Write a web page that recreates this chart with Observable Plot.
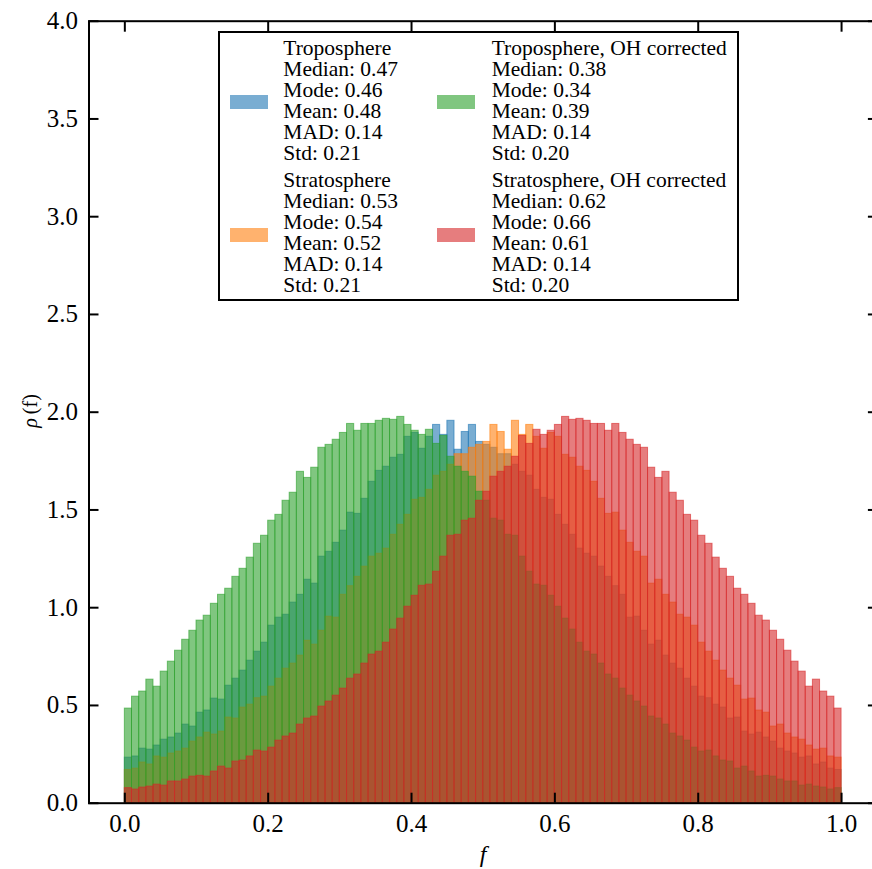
<!DOCTYPE html>
<html><head><meta charset="utf-8">
<script src="https://cdn.jsdelivr.net/npm/d3@7"></script>
<script src="https://cdn.jsdelivr.net/npm/@observablehq/plot@0.6"></script>
<style>
html,body{margin:0;padding:0;background:#fff;overflow:hidden;width:872px;height:869px;}
#wrap{position:relative;width:872px;height:869px;overflow:hidden;}
#wrap svg{position:absolute;left:0;top:0;max-width:none !important;width:880px !important;height:869px !important;}
#legend{position:absolute;left:218px;top:31px;width:521px;height:270px;box-sizing:border-box;border:2px solid #000;background:#fff;font-family:"Liberation Serif",serif;font-size:21.5px;color:#000;}
.blk{position:absolute;line-height:21px;white-space:pre;}
.patch{position:absolute;width:38px;height:14px;}
</style></head><body><div id="wrap"><div id="legend"></div></div>
<script>
// histogram bin lower edges (100 bins on [0, 1])
const binLo = d3.range(100).map(i => i / 100);
const binWidth = 0.01;

// Troposphere
const tropo = [
0.233,0.239,0.279,0.274,0.295,0.325,0.336,0.356,0.402,0.392,
0.463,0.474,0.535,0.530,0.601,0.637,0.678,0.729,0.775,0.821,
0.908,0.949,0.964,1.026,1.066,1.143,1.123,1.261,1.286,1.332,
1.394,1.486,1.480,1.557,1.644,1.700,1.721,1.767,1.782,1.874,
1.894,1.813,1.874,1.935,1.884,1.956,1.808,1.899,1.935,1.848,
1.833,1.818,1.785,1.785,1.731,1.695,1.675,1.603,1.562,1.552,
1.475,1.424,1.373,1.302,1.276,1.261,1.210,1.158,1.110,1.066,
0.949,0.954,0.882,0.811,0.831,0.755,0.714,0.688,0.637,0.596,
0.545,0.537,0.504,0.489,0.433,0.438,0.366,0.351,0.361,0.336,
0.315,0.279,0.264,0.254,0.233,0.239,0.198,0.208,0.177,0.170];

// Stratosphere
const strato = [
0.170,0.177,0.208,0.198,0.239,0.233,0.254,0.264,0.279,0.315,
0.336,0.361,0.351,0.366,0.438,0.433,0.489,0.504,0.537,0.545,
0.596,0.637,0.688,0.714,0.755,0.831,0.811,0.882,0.954,0.949,
1.066,1.110,1.158,1.210,1.261,1.276,1.302,1.373,1.424,1.475,
1.552,1.562,1.603,1.675,1.695,1.731,1.785,1.785,1.818,1.833,
1.848,1.935,1.899,1.808,1.956,1.884,1.935,1.874,1.813,1.894,
1.874,1.782,1.767,1.721,1.700,1.644,1.557,1.480,1.486,1.394,
1.332,1.286,1.261,1.123,1.143,1.066,1.026,0.964,0.949,0.908,
0.821,0.775,0.729,0.678,0.637,0.601,0.530,0.535,0.474,0.463,
0.392,0.402,0.356,0.336,0.325,0.295,0.274,0.279,0.239,0.233];

// Troposphere, OH corrected
const tropoOH = [
0.484,0.545,0.571,0.632,0.596,0.673,0.724,0.780,0.836,0.882,
0.934,0.959,1.020,1.066,1.097,1.158,1.199,1.256,1.327,1.368,
1.445,1.475,1.547,1.588,1.695,1.664,1.716,1.818,1.833,1.859,
1.894,1.940,1.905,1.940,1.940,1.956,1.966,1.961,1.976,1.935,
1.905,1.884,1.910,1.838,1.879,1.772,1.721,1.695,1.670,1.593,
1.547,1.455,1.445,1.373,1.368,1.261,1.184,1.118,1.112,1.061,
1.005,0.944,0.888,0.821,0.775,0.760,0.714,0.658,0.637,0.586,
0.550,0.520,0.494,0.443,0.433,0.402,0.356,0.341,0.320,0.284,
0.264,0.269,0.239,0.218,0.213,0.177,0.187,0.162,0.136,0.140,
0.136,0.121,0.111,0.111,0.090,0.095,0.085,0.080,0.070,0.077];

// Stratosphere, OH corrected
const stratoOH = [
0.077,0.070,0.080,0.085,0.095,0.090,0.111,0.111,0.121,0.136,
0.140,0.136,0.162,0.187,0.177,0.213,0.218,0.239,0.269,0.264,
0.284,0.320,0.341,0.356,0.402,0.433,0.443,0.494,0.520,0.550,
0.586,0.637,0.658,0.714,0.760,0.775,0.821,0.888,0.944,1.005,
1.061,1.112,1.118,1.184,1.261,1.368,1.373,1.445,1.455,1.547,
1.593,1.670,1.695,1.721,1.772,1.879,1.838,1.910,1.884,1.905,
1.935,1.976,1.961,1.966,1.956,1.940,1.940,1.905,1.940,1.894,
1.859,1.833,1.818,1.716,1.664,1.695,1.588,1.547,1.475,1.445,
1.368,1.327,1.256,1.199,1.158,1.097,1.066,1.020,0.959,0.934,
0.882,0.836,0.780,0.724,0.673,0.596,0.632,0.571,0.545,0.484];

const seriesNames = ["Troposphere", "Stratosphere", "Troposphere, OH corrected", "Stratosphere, OH corrected"];
const seriesColors = ["#1f77b4", "#ff7f0e", "#2ca02c", "#d62728"];
const seriesValues = [tropo, strato, tropoOH, stratoOH];
const seriesStats = [
  {median: "0.47", mode: "0.46", mean: "0.48", mad: "0.14", std: "0.21"},
  {median: "0.53", mode: "0.54", mean: "0.52", mad: "0.14", std: "0.21"},
  {median: "0.38", mode: "0.34", mean: "0.39", mad: "0.14", std: "0.20"},
  {median: "0.62", mode: "0.66", mean: "0.61", mad: "0.14", std: "0.20"}
];

const xTicks = [0, 0.2, 0.4, 0.6, 0.8, 1.0];
const yTicks = [0, 0.5, 1.0, 1.5, 2.0, 2.5, 3.0, 3.5, 4.0];

const histMarks = seriesValues.map((vals, s) =>
  Plot.rect(vals.map((v, i) => ({x1: binLo[i], x2: binLo[i] + binWidth, y: v})), {
    x1: "x1", x2: "x2", y1: 0, y2: "y",
    fill: seriesColors[s], fillOpacity: 0.6,
    stroke: seriesColors[s], strokeOpacity: 0.6, strokeWidth: 1
  })
);

const fmt = d3.format(".1f");
const chart = Plot.plot({
  width: 880, height: 869,
  marginLeft: 88.5, marginRight: 3.1, marginTop: 20.7, marginBottom: 66.3,
  style: {fontFamily: "'Liberation Serif', serif", fontSize: "25px", color: "#000", background: "transparent", maxWidth: "none"},
  x: {domain: [-0.05, 1.05], label: null},
  y: {domain: [0, 4], label: null},
  marks: [
    ...histMarks,
    Plot.axisX(xTicks, {anchor: "bottom", tickSize: 0, tickPadding: 11, tickFormat: fmt, label: null}),
    Plot.axisY(yTicks, {anchor: "left", tickSize: 0, tickPadding: 11, tickFormat: fmt, label: null}),
    Plot.axisX(xTicks, {anchor: "bottom", tickSize: -10, text: null, strokeWidth: 2, label: null}),
    Plot.axisX(xTicks, {anchor: "top", tickSize: -10, text: null, strokeWidth: 2, label: null}),
    Plot.axisY(yTicks, {anchor: "left", tickSize: -10, text: null, strokeWidth: 2, label: null}),
    Plot.axisY(yTicks, {anchor: "right", tickSize: -10, text: null, strokeWidth: 2, label: null}),
    Plot.frame({stroke: "#000", strokeWidth: 2})
  ]
});
document.getElementById("wrap").appendChild(chart);

// axis titles
const svg = d3.select(chart);
const yl = svg.append("text")
  .attr("transform", "translate(37,411) rotate(-90)")
  .attr("text-anchor", "middle")
  .attr("font-family", "'Liberation Serif', serif")
  .attr("font-size", 20)
  .attr("fill", "#000");
yl.append("tspan").attr("font-style", "italic").text("ρ");
yl.append("tspan").text("\u2009(f)");
svg.append("text")
  .attr("x", 483).attr("y", 862)
  .attr("text-anchor", "middle")
  .attr("font-family", "'Liberation Serif', serif")
  .attr("font-style", "italic")
  .attr("font-size", 24)
  .attr("fill", "#000")
  .text("f");

// legend
const legend = document.getElementById("legend");
const colLeft = [281.3 - 218, 489.7 - 218];
const patchLeft = [228 - 218, 435 - 218];
const blockTop = [35.9 - 31, 167.5 - 31];
const patchTop = [93 - 31, 226 - 31];
seriesNames.forEach((name, s) => {
  const col = s < 2 ? 0 : 1;
  const row = s % 2;
  const st = seriesStats[s];
  const blk = document.createElement("div");
  blk.className = "blk";
  blk.style.left = colLeft[col] + "px";
  blk.style.top = blockTop[row] + "px";
  blk.textContent = `${name}\nMedian: ${st.median}\nMode: ${st.mode}\nMean: ${st.mean}\nMAD: ${st.mad}\nStd: ${st.std}`;
  legend.appendChild(blk);
  const p = document.createElement("div");
  p.className = "patch";
  p.style.left = patchLeft[col] + "px";
  p.style.top = patchTop[row] + "px";
  p.style.background = seriesColors[s];
  p.style.opacity = 0.6;
  legend.appendChild(p);
});
</script>
</body></html>
